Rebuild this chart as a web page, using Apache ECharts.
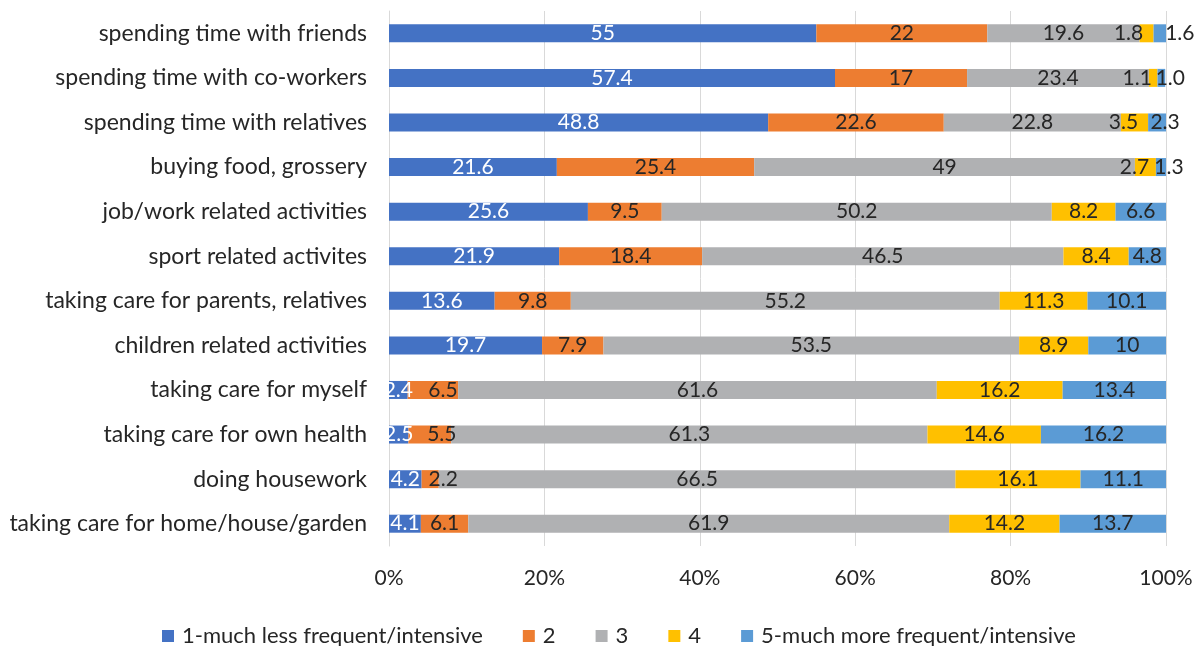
<!DOCTYPE html>
<html>
<head>
<meta charset="utf-8">
<script src="https://cdn.jsdelivr.net/npm/echarts@6/dist/echarts.min.js"></script>
<style>
  html, body { margin: 0; padding: 0; background: #fff; }
  #chart { width: 1203px; height: 646px; }
</style>
</head>
<body>
<div id="chart"></div>
<script>
// categories, top to bottom
const categories = [
  "spending time with friends",
  "spending time with co-workers",
  "spending time with relatives",
  "buying food, grossery",
  "job/work related activities",
  "sport related activites",
  "taking care for parents, relatives",
  "children related activities",
  "taking care for myself",
  "taking care for own health",
  "doing housework",
  "taking care for home/house/garden"
];
const seriesNames = [
  "1-much less frequent/intensive",
  "2",
  "3",
  "4",
  "5-much more frequent/intensive"
];
const s1 = [55, 57.4, 48.8, 21.6, 25.6, 21.9, 13.6, 19.7, 2.4, 2.5, 4.2, 4.1];
const s2 = [22, 17, 22.6, 25.4, 9.5, 18.4, 9.8, 7.9, 6.5, 5.5, 2.2, 6.1];
const s3 = [19.6, 23.4, 22.8, 49, 50.2, 46.5, 55.2, 53.5, 61.6, 61.3, 66.5, 61.9];
const s4 = [1.8, 1.1, 3.5, 2.7, 8.2, 8.4, 11.3, 8.9, 16.2, 14.6, 16.1, 14.2];
const s5 = [1.6, 1.0, 2.3, 1.3, 6.6, 4.8, 10.1, 10, 13.4, 16.2, 11.1, 13.7];
// "1.0" is printed with its trailing zero
const s5Text = ["1.6", "1.0", "2.3", "1.3", "6.6", "4.8", "10.1", "10", "13.4", "16.2", "11.1", "13.7"];
const xTicks = [0, 20, 40, 60, 80, 100];

const colors = ["#4472C4", "#ED7D31", "#B0B1B3", "#FFC000", "#5B9BD5"];
const labelColors = ["#ffffff", "#262626", "#262626", "#262626", "#262626"];
const allData = [s1, s2, s3, s4, s5];
const font = "Lato, 'Open Sans', sans-serif";

// label nudges like in the original (small segments pushed aside), px
const nudges = {
  1: { 8: 10, 9: 12, 10: 13 },
  3: { 0: -18, 1: -16, 2: -11, 3: -11 },
  4: { 0: 20, 1: 9, 2: 8, 3: 8 }
};

const series = allData.map((d, i) => ({
  name: seriesNames[i],
  type: "bar",
  stack: "total",
  barWidth: 18,
  data: d,
  itemStyle: { color: colors[i] },
  label: {
    show: true,
    position: "inside",
    color: labelColors[i],
    fontFamily: font,
    fontSize: 21,
    overflow: "none",
    formatter: function (p) {
      return i === 4 ? s5Text[p.dataIndex] : String(p.value);
    }
  },
  labelLayout: function (params) {
    const dx = (nudges[i] && nudges[i][params.dataIndex]) || 0;
    return { dx: dx, hideOverlap: false };
  }
}));

const chart = echarts.init(document.getElementById("chart"));
chart.setOption({
  animation: false,
  textStyle: { fontFamily: font },
  grid: { left: 389, right: 37, top: 11, bottom: 100 },
  legend: {
    top: 620,
    left: 157,
    itemWidth: 12,
    itemHeight: 12,
    itemGap: 40,
    icon: "rect",
    textStyle: { fontSize: 22, color: "#262626", fontFamily: font, padding: [0, 0, 0, 3] },
    data: seriesNames
  },
  xAxis: {
    type: "value",
    min: 0,
    max: 100,
    interval: 20,
    axisLine: { show: false },
    axisTick: { show: false },
    splitLine: { lineStyle: { color: "#d9d9d9", width: 1 } },
    axisLabel: {
      color: "#262626",
      fontSize: 21,
      margin: 22,
      formatter: function (v) { return xTicks.includes(v) ? v + "%" : ""; }
    }
  },
  yAxis: {
    type: "category",
    inverse: true,
    data: categories,
    axisLine: { show: true, lineStyle: { color: "#d9d9d9" } },
    axisTick: { show: false },
    axisLabel: { color: "#262626", fontSize: 23, margin: 22 }
  },
  series: series
});
</script>
</body>
</html>
